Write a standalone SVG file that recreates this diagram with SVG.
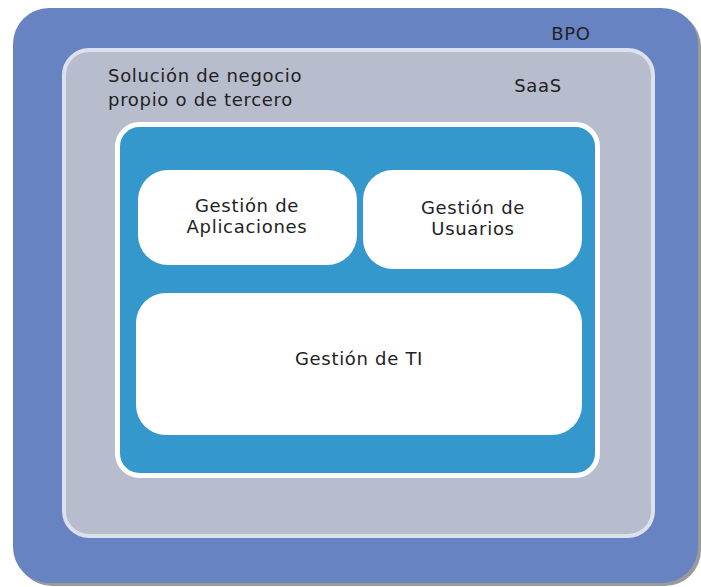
<svg xmlns="http://www.w3.org/2000/svg" width="701" height="587" viewBox="0 0 701 587">
<style>
text{font-family:"DejaVu Sans",Verdana,sans-serif;font-size:18px;letter-spacing:0.7px;fill:#222}
.c{text-anchor:middle}
.box{fill:#fff}
</style>
<rect width="701" height="587" fill="#fff"/>
<g id="bpo">
<rect x="16" y="11" width="685" height="575" rx="36" fill="#9a9a9a"/>
<rect x="13" y="8" width="685" height="575" rx="36" fill="#6783c2"/>
<text x="571" y="40" class="c">BPO</text>
</g>
<g id="saas">
<rect x="64" y="50" width="589" height="486" rx="25" fill="#b7bdcc" stroke="#dce1ee" stroke-width="4"/>
<text x="538" y="92" class="c">SaaS</text>
<text x="108" y="82">Solución de negocio</text>
<text x="108" y="106">propio o de tercero</text>
</g>
<g id="core">
<rect x="117.5" y="124.5" width="480" height="351" rx="22" fill="#3598cc" stroke="#fff" stroke-width="5"/>
</g>
<g id="apps">
<rect x="138" y="170" width="219" height="95" rx="30" class="box"/>
<text x="247" y="212" class="c">Gestión de</text>
<text x="247" y="233" class="c">Aplicaciones</text>
</g>
<g id="usuarios">
<rect x="363" y="170" width="219" height="99" rx="30" class="box"/>
<text x="473" y="214" class="c">Gestión de</text>
<text x="473" y="235" class="c">Usuarios</text>
</g>
<g id="ti">
<rect x="136" y="293" width="446" height="142" rx="30" class="box"/>
<text x="359" y="365" class="c">Gestión de TI</text>
</g>
<g id="connectors"></g>
</svg>
